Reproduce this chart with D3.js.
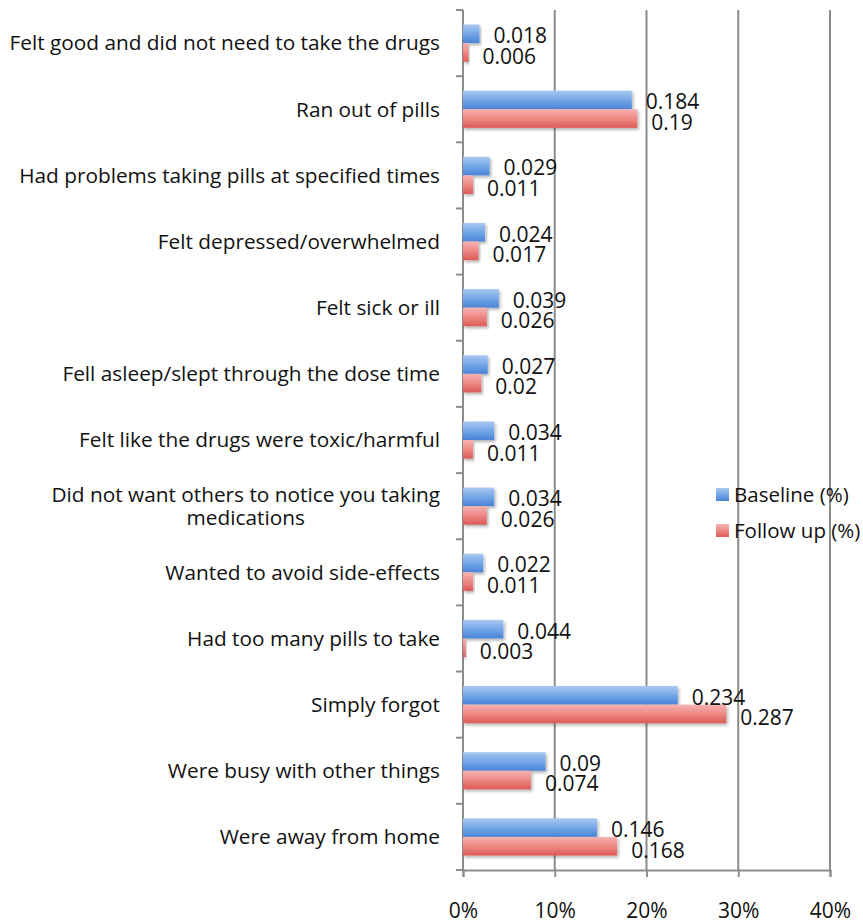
<!DOCTYPE html>
<html>
<head>
<meta charset="utf-8">
<script src="https://cdn.jsdelivr.net/npm/d3@7"></script>
<style>
  body { margin: 0; background: #fff; }
  svg { display: block; font-family: "Open Sans", Lato, sans-serif; }
</style>
</head>
<body>
<svg id="chart" width="863" height="923"></svg>
<script>
const categories = [
  ["Felt good and did not need to take the drugs"],
  ["Ran out of pills"],
  ["Had problems taking pills at specified times"],
  ["Felt depressed/overwhelmed"],
  ["Felt sick or ill"],
  ["Fell asleep/slept through the dose time"],
  ["Felt like the drugs were toxic/harmful"],
  ["Did not want others to notice you taking", "medications"],
  ["Wanted to avoid side-effects"],
  ["Had too many pills to take"],
  ["Simply forgot"],
  ["Were busy with other things"],
  ["Were away from home"]
];
const baseline = [0.018, 0.184, 0.029, 0.024, 0.039, 0.027, 0.034, 0.034, 0.022, 0.044, 0.234, 0.09, 0.146];
const followUp = [0.006, 0.19, 0.011, 0.017, 0.026, 0.02, 0.011, 0.026, 0.011, 0.003, 0.287, 0.074, 0.168];
const seriesNames = ["Baseline (%)", "Follow up (%)"];
const xTicks = [0, 0.1, 0.2, 0.3, 0.4];

(function () {
const svg = d3.select("#chart");
const mLeft = 463, mRight = 830, mTop = 10, mBottom = 870;

const x = d3.scaleLinear().domain([0, 0.4]).range([mLeft, mRight]);
const y = d3.scaleBand().domain(d3.range(categories.length)).range([mTop, mBottom]).paddingInner(0).paddingOuter(0);
const sub = d3.scaleBand().domain([0, 1]).range([0, y.bandwidth()]).paddingOuter(0.78).paddingInner(0);

const defs = svg.append("defs");
function grad(id, c1, c2, c3) {
  const g = defs.append("linearGradient").attr("id", id).attr("x1", 0).attr("x2", 0).attr("y1", 0).attr("y2", 1);
  g.append("stop").attr("offset", "0%").attr("stop-color", c1);
  g.append("stop").attr("offset", "55%").attr("stop-color", c2);
  g.append("stop").attr("offset", "100%").attr("stop-color", c3);
}
grad("gBlue", "#a9c8f0", "#6fa3e6", "#4a84d6");
grad("gRed", "#f6b3b1", "#ec8480", "#dc5a56");
const f = defs.append("filter").attr("id", "shadow").attr("x", "-5%").attr("y", "-20%").attr("width", "115%").attr("height", "160%");
f.append("feDropShadow").attr("dx", 1.5).attr("dy", 2).attr("stdDeviation", 1.5).attr("flood-color", "#000").attr("flood-opacity", 0.3);

// gridlines
svg.append("g").selectAll("line").data(xTicks.slice(1)).join("line")
  .attr("x1", d => x(d)).attr("x2", d => x(d))
  .attr("y1", mTop).attr("y2", mBottom)
  .attr("stroke", "#8c8c8c").attr("stroke-width", 2);

// x axis
const xAxis = d3.axisBottom(x).tickValues(xTicks).tickFormat(d3.format(".0%")).tickSize(7).tickPadding(26);
const gx = svg.append("g").attr("transform", `translate(0,${mBottom})`).call(xAxis);
gx.select(".domain").attr("stroke", "#8c8c8c").attr("stroke-width", 2);
gx.selectAll(".tick line").attr("stroke", "#8c8c8c").attr("stroke-width", 2);
gx.selectAll(".tick text").attr("font-size", 21).attr("fill", "#111").attr("font-family", "'Open Sans', sans-serif");

// y axis line and ticks at boundaries
svg.append("line").attr("x1", mLeft).attr("x2", mLeft).attr("y1", mTop).attr("y2", mBottom)
  .attr("stroke", "#8c8c8c").attr("stroke-width", 2);
svg.append("g").selectAll("line").data(d3.range(categories.length + 1)).join("line")
  .attr("x1", mLeft - 7).attr("x2", mLeft)
  .attr("y1", i => i < categories.length ? y(i) : mBottom)
  .attr("y2", i => i < categories.length ? y(i) : mBottom)
  .attr("stroke", "#8c8c8c").attr("stroke-width", 2);

// category labels
const lab = svg.append("g").selectAll("text").data(categories).join("text")
  .attr("x", 440)
  .attr("y", (d, i) => y(i) + y.bandwidth() / 2)
  .attr("text-anchor", "end")
  .attr("font-size", 20.8)
  .attr("fill", "#111");
lab.each(function(lines) {
  const t = d3.select(this);
  const n = lines.length;
  lines.forEach((ln, k) => {
    t.append("tspan")
      .attr("x", 440)
      .attr("dy", k === 0 ? `${0.35 - (n - 1) * 0.55}em` : "1.1em")
      .text(ln);
  });
});
lab.filter(d => d.length > 1).each(function() {
  const t = d3.select(this);
  const spans = t.selectAll("tspan").nodes();
  const w0 = spans[0].getComputedTextLength();
  const cx = 440 - w0 / 2;
  t.attr("text-anchor", "middle");
  spans.forEach(s => d3.select(s).attr("x", cx));
});

// bars
const series = [
  { vals: baseline, fill: "url(#gBlue)" },
  { vals: followUp, fill: "url(#gRed)" }
];
series.forEach((s, si) => {
  svg.append("g").selectAll("rect").data(s.vals).join("rect")
    .attr("x", x(0))
    .attr("y", (d, i) => y(i) + sub(si))
    .attr("width", d => x(d) - x(0))
    .attr("height", sub.bandwidth())
    .attr("fill", s.fill)
    .attr("filter", "url(#shadow)");
});
series.forEach((s, si) => {
  svg.append("g").selectAll("text").data(s.vals).join("text")
    .attr("x", d => x(d) + 14)
    .attr("y", (d, i) => y(i) + sub(si) + sub.bandwidth() / 2 + (si === 0 ? 2 : 4))
    .attr("dy", "0.35em")
    .attr("font-size", 21)
    .attr("fill", "#111")
    .text(d => String(d));
});

// legend
const leg = svg.append("g").selectAll("g").data(seriesNames).join("g")
  .attr("transform", (d, i) => `translate(716,${488 + i * 36})`);
leg.append("rect").attr("width", 13).attr("height", 13).attr("y", 0)
  .attr("fill", (d, i) => i === 0 ? "url(#gBlue)" : "url(#gRed)");
leg.append("text").attr("x", 18).attr("y", 7).attr("dy", "0.35em")
  .attr("font-size", 20.5).attr("fill", "#111").text(d => d);
})();
</script>
</body>
</html>
